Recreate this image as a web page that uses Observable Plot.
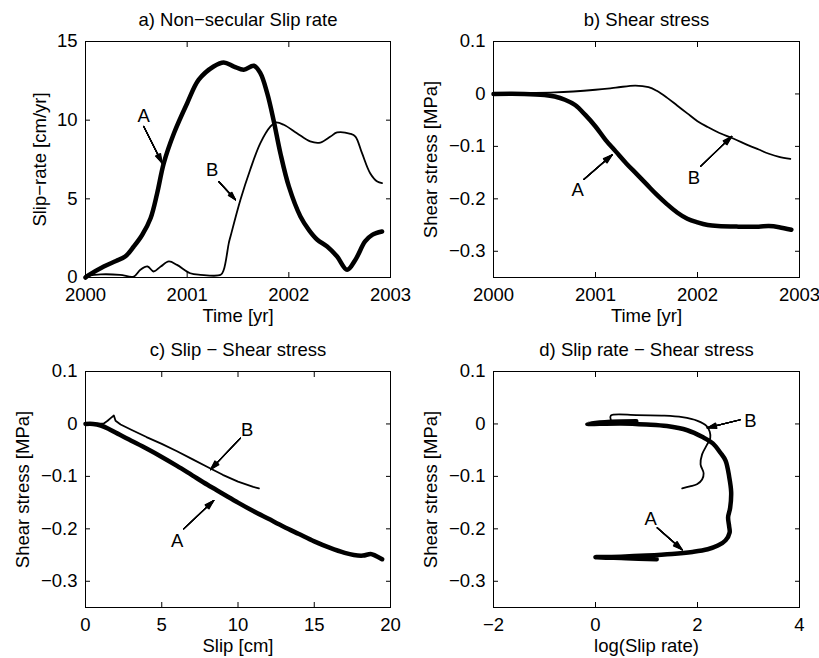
<!DOCTYPE html>
<html><head><meta charset="utf-8">
<script src="https://cdn.jsdelivr.net/npm/d3@7"></script>
<script src="https://cdn.jsdelivr.net/npm/@observablehq/plot@0.6"></script>
<style>
body{margin:0;background:#fff;}
#fig{position:relative;width:819px;height:658px;background:#fff;overflow:hidden;}
</style></head><body><div id="fig"></div>
<script>
// ---------- Panel a: slip rate vs time ----------
const a_timeA = [2000, 2000.02, 2000.18, 2000.3, 2000.39, 2000.475, 2000.557, 2000.64, 2000.705, 2000.77, 2000.87, 2001.0, 2001.114, 2001.26, 2001.36, 2001.46, 2001.557, 2001.655, 2001.72, 2001.787, 2001.85, 2001.917, 2002.0, 2002.114, 2002.2, 2002.28, 2002.377, 2002.475, 2002.573, 2002.655, 2002.75, 2002.82, 2002.917];
const a_rateA = [0, 0.1, 0.7, 1.05, 1.33, 1.97, 2.7, 3.77, 5.36, 7.27, 9.17, 11.08, 12.57, 13.41, 13.67, 13.41, 13.2, 13.46, 12.99, 11.72, 10.0, 7.9, 5.79, 3.88, 3.0, 2.4, 1.97, 1.33, 0.49, 1.13, 2.29, 2.71, 2.92];
const a_timeB = [2000, 2000.15, 2000.34, 2000.475, 2000.54, 2000.61, 2000.67, 2000.74, 2000.82, 2000.9, 2001.03, 2001.13, 2001.33, 2001.36, 2001.41, 2001.426, 2001.524, 2001.62, 2001.72, 2001.82, 2001.87, 2001.95, 2002.08, 2002.21, 2002.31, 2002.41, 2002.475, 2002.606, 2002.655, 2002.72, 2002.8, 2002.87, 2002.917];
const a_rateB = [0.1, 0.2, 0.17, 0.06, 0.49, 0.7, 0.38, 0.7, 1.02, 0.8, 0.27, 0.17, 0.17, 0.49, 2.2, 2.6, 4.94, 6.85, 8.54, 9.6, 9.85, 9.71, 9.17, 8.65, 8.58, 8.96, 9.22, 9.13, 8.96, 7.9, 6.63, 6.1, 6.0];
const a_xTicks = [2000, 2001, 2002, 2003];
const a_yTicks = [0, 5, 10, 15];
const a_labels = ["A", "B"];
const a_labelX = [2000.573, 2001.246];
const a_labelY = [10.23, 6.85];
const a_arrowFrom = [[2000.573, 9.6], [2001.31, 6.1]];
const a_arrowTo = [[2000.754, 7.27], [2001.475, 4.94]];

// ---------- Panel b: shear stress vs time ----------
const b_timeA = [2000, 2000.3, 2000.5, 2000.6, 2000.7, 2000.8, 2000.9, 2001.0, 2001.1, 2001.2, 2001.3, 2001.4, 2001.5, 2001.6, 2001.7, 2001.8, 2001.9, 2002.0, 2002.1, 2002.2, 2002.4, 2002.6, 2002.7, 2002.8, 2002.92];
const b_stressA = [0, 0, -0.002, -0.005, -0.011, -0.021, -0.04, -0.062, -0.088, -0.11, -0.132, -0.152, -0.172, -0.192, -0.21, -0.226, -0.238, -0.245, -0.25, -0.252, -0.253, -0.253, -0.252, -0.254, -0.259];
const b_timeB = [2000, 2000.6, 2001.0, 2001.2, 2001.39, 2001.52, 2001.6, 2001.7, 2001.8, 2001.9, 2002.0, 2002.1, 2002.2, 2002.35, 2002.5, 2002.6, 2002.7, 2002.8, 2002.91];
const b_stressB = [0.002, 0.003, 0.008, 0.012, 0.016, 0.013, 0.006, -0.007, -0.022, -0.037, -0.052, -0.063, -0.073, -0.085, -0.098, -0.106, -0.114, -0.12, -0.124];
const b_xTicks = [2000, 2001, 2002, 2003];
const b_yTicks = [-0.3, -0.2, -0.1, 0, 0.1];
const b_labels = ["A", "B"];
const b_labelX = [2000.826, 2001.964];
const b_labelY = [-0.184, -0.16];
const b_arrowFrom = [[2000.885, -0.163], [2002.03, -0.138]];
const b_arrowTo = [[2001.164, -0.116], [2002.336, -0.081]];

// ---------- Panel c: shear stress vs slip ----------
const c_slipA = [0, 0.5, 1.0, 1.5, 2, 3, 4, 5, 6, 7, 8, 9, 10, 11, 12, 13, 14, 15, 16, 17, 17.6, 18.2, 18.7, 19.0, 19.45];
const c_stressA = [0, 0, -0.003, -0.009, -0.017, -0.032, -0.047, -0.063, -0.08, -0.098, -0.116, -0.133, -0.15, -0.166, -0.181, -0.196, -0.21, -0.224, -0.236, -0.246, -0.25, -0.251, -0.248, -0.251, -0.258];
const c_slipB = [0, 1.2, 1.45, 1.65, 1.86, 1.97, 2.3, 3, 4, 5, 6, 7, 8, 9, 10, 11, 11.37];
const c_stressB = [0, 0.001, 0.006, 0.011, 0.016, 0.006, -0.001, -0.011, -0.025, -0.038, -0.052, -0.067, -0.082, -0.097, -0.11, -0.12, -0.123];
const c_xTicks = [0, 5, 10, 15, 20];
const c_yTicks = [-0.3, -0.2, -0.1, 0, 0.1];
const c_labels = ["A", "B"];
const c_labelX = [6.01, 10.6];
const c_labelY = [-0.223, -0.011];
const c_arrowFrom = [[6.44, -0.2], [10.16, -0.027]];
const c_arrowTo = [[8.41, -0.146], [8.2, -0.087]];

// ---------- Panel d: shear stress vs log(slip rate) ----------
const d_logRateA = [0.8, 0.3, -0.16, 0.5, 1.0, 1.4, 1.8, 2.1, 2.3, 2.45, 2.55, 2.62, 2.66, 2.64, 2.6, 2.62, 2.63, 2.55, 2.4, 2.2, 1.9, 1.5, 1.0, 0.5, 0.0, 0.6, 1.2];
const d_stressA = [0.005, 0.004, 0.0, 0.001, -0.001, -0.004, -0.012, -0.025, -0.037, -0.055, -0.07, -0.1, -0.13, -0.16, -0.178, -0.195, -0.207, -0.222, -0.232, -0.239, -0.244, -0.248, -0.251, -0.253, -0.254, -0.256, -0.258];
const d_logRateB = [0.3, 0.3, 0.8, 1.3, 1.7, 2.0, 2.18, 2.24, 2.25, 2.19, 2.09, 2.06, 2.12, 2.09, 1.99, 1.85, 1.7];
const d_stressB = [0.008, 0.016, 0.017, 0.016, 0.013, 0.006, -0.004, -0.015, -0.027, -0.039, -0.058, -0.077, -0.094, -0.106, -0.115, -0.119, -0.123];
const d_xTicks = [-2, 0, 2, 4];
const d_yTicks = [-0.3, -0.2, -0.1, 0, 0.1];
const d_labels = ["A", "B"];
const d_labelX = [1.08, 3.04];
const d_labelY = [-0.182, 0.005];
const d_arrowFrom = [[1.21, -0.198], [2.84, 0.008]];
const d_arrowTo = [[1.70, -0.24], [2.19, -0.0076]];

// ---------- helpers ----------
const FONT = "'Liberation Sans', Arial, Helvetica, sans-serif";
const fmt = d => (d < 0 ? "\u2212" : "") + String(Math.abs(d));
const rows = (X, Y) => X.map((x, i) => ({x, y: Y[i]}));
const fig = document.getElementById("fig");

function arrowMarks(from, to) {
  const data = from.map((f, i) => ({x1: f[0], y1: f[1], x2: to[i][0], y2: to[i][1]}));
  return [34, 26, 18, 10, 3].map(ang => Plot.arrow(data, {
    x1: "x1", y1: "y1", x2: "x2", y2: "y2",
    headLength: 12, headAngle: ang, strokeWidth: 1.2, stroke: "black"
  }));
}

function panel(p) {
  const yMid = (p.yDomain[0] + p.yDomain[1]) / 2;
  const marks = [
    Plot.frame({stroke: "black", strokeWidth: 1}),
    Plot.axisX(p.xTicks, {anchor: "bottom", tickSize: -5, tickPadding: 15, tickFormat: fmt, label: null}),
    Plot.axisX(p.xTicks, {anchor: "top", tickSize: -5, tickFormat: () => "", label: null}),
    Plot.axisY(p.yTicks, {anchor: "left", tickSize: -5, tickPadding: 13, tickFormat: fmt, label: null}),
    Plot.axisY(p.yTicks, {anchor: "right", tickSize: -5, tickFormat: () => "", label: null}),
    Plot.line(p.thin, {x: "x", y: "y", stroke: "black", strokeWidth: 1.8, curve: p.thinCurve || "catmull-rom", strokeLinejoin: "round", strokeLinecap: "round"}),
    Plot.line(p.thick, {x: "x", y: "y", stroke: "black", strokeWidth: 4.5, curve: "catmull-rom", strokeLinejoin: "round", strokeLinecap: "round"}),
    ...arrowMarks(p.from, p.to),
    Plot.text(p.labels, {x: (d, i) => p.labelX[i], y: (d, i) => p.labelY[i], text: d => d, fill: "black"}),
    Plot.text([p.title], {frameAnchor: "top", lineAnchor: "middle", textAnchor: "middle", dy: -21, fill: "black"}),
    Plot.text([p.xLabel], {frameAnchor: "bottom", lineAnchor: "middle", textAnchor: "middle", dy: 39, fill: "black"}),
    Plot.text([p.yLabel], {x: () => p.xDomain[0], y: () => yMid, lineAnchor: "middle", textAnchor: "middle", rotate: -90, dx: p.yDx, fill: "black"})
  ];
  const svg = Plot.plot({
    width: p.width, height: p.height,
    marginLeft: p.ml, marginRight: p.mr, marginTop: p.mt, marginBottom: p.mb,
    x: {domain: p.xDomain}, y: {domain: p.yDomain},
    style: {fontFamily: FONT, fontSize: "18.5px", background: "transparent", color: "black", overflow: "visible"},
    marks
  });
  svg.style.position = "absolute";
  svg.style.left = p.left + "px";
  svg.style.top = p.top + "px";
  svg.style.maxWidth = "none";
  fig.appendChild(svg);
}

panel({left: 0, top: 0, width: 410, height: 330, ml: 85, mr: 20, mt: 41, mb: 53,
  xDomain: [2000, 2003], yDomain: [0, 15], xTicks: a_xTicks, yTicks: a_yTicks,
  thick: rows(a_timeA, a_rateA), thin: rows(a_timeB, a_rateB),
  labels: a_labels, labelX: a_labelX, labelY: a_labelY, from: a_arrowFrom, to: a_arrowTo,
  title: "a) Non\u2212secular Slip rate", xLabel: "Time [yr]", yLabel: "Slip\u2212rate [cm/yr]", yDx: -45});

panel({left: 410, top: 0, width: 409, height: 330, ml: 83, mr: 20, mt: 41, mb: 53,
  xDomain: [2000, 2003], yDomain: [-0.35, 0.1], xTicks: b_xTicks, yTicks: b_yTicks,
  thick: rows(b_timeA, b_stressA), thin: rows(b_timeB, b_stressB),
  labels: b_labels, labelX: b_labelX, labelY: b_labelY, from: b_arrowFrom, to: b_arrowTo,
  title: "b) Shear stress", xLabel: "Time [yr]", yLabel: "Shear stress [MPa]", yDx: -62});

panel({left: 0, top: 330, width: 410, height: 328, ml: 85, mr: 20, mt: 41, mb: 51,
  xDomain: [0, 20], yDomain: [-0.35, 0.1], xTicks: c_xTicks, yTicks: c_yTicks,
  thick: rows(c_slipA, c_stressA), thin: rows(c_slipB, c_stressB), thinCurve: "linear",
  labels: c_labels, labelX: c_labelX, labelY: c_labelY, from: c_arrowFrom, to: c_arrowTo,
  title: "c) Slip \u2212 Shear stress", xLabel: "Slip [cm]", yLabel: "Shear stress [MPa]", yDx: -62});

panel({left: 410, top: 330, width: 409, height: 328, ml: 83, mr: 20, mt: 41, mb: 51,
  xDomain: [-2, 4], yDomain: [-0.35, 0.1], xTicks: d_xTicks, yTicks: d_yTicks,
  thick: rows(d_logRateA, d_stressA), thin: rows(d_logRateB, d_stressB),
  labels: d_labels, labelX: d_labelX, labelY: d_labelY, from: d_arrowFrom, to: d_arrowTo,
  title: "d) Slip rate \u2212 Shear stress", xLabel: "log(Slip rate)", yLabel: "Shear stress [MPa]", yDx: -62});
</script></body></html>
